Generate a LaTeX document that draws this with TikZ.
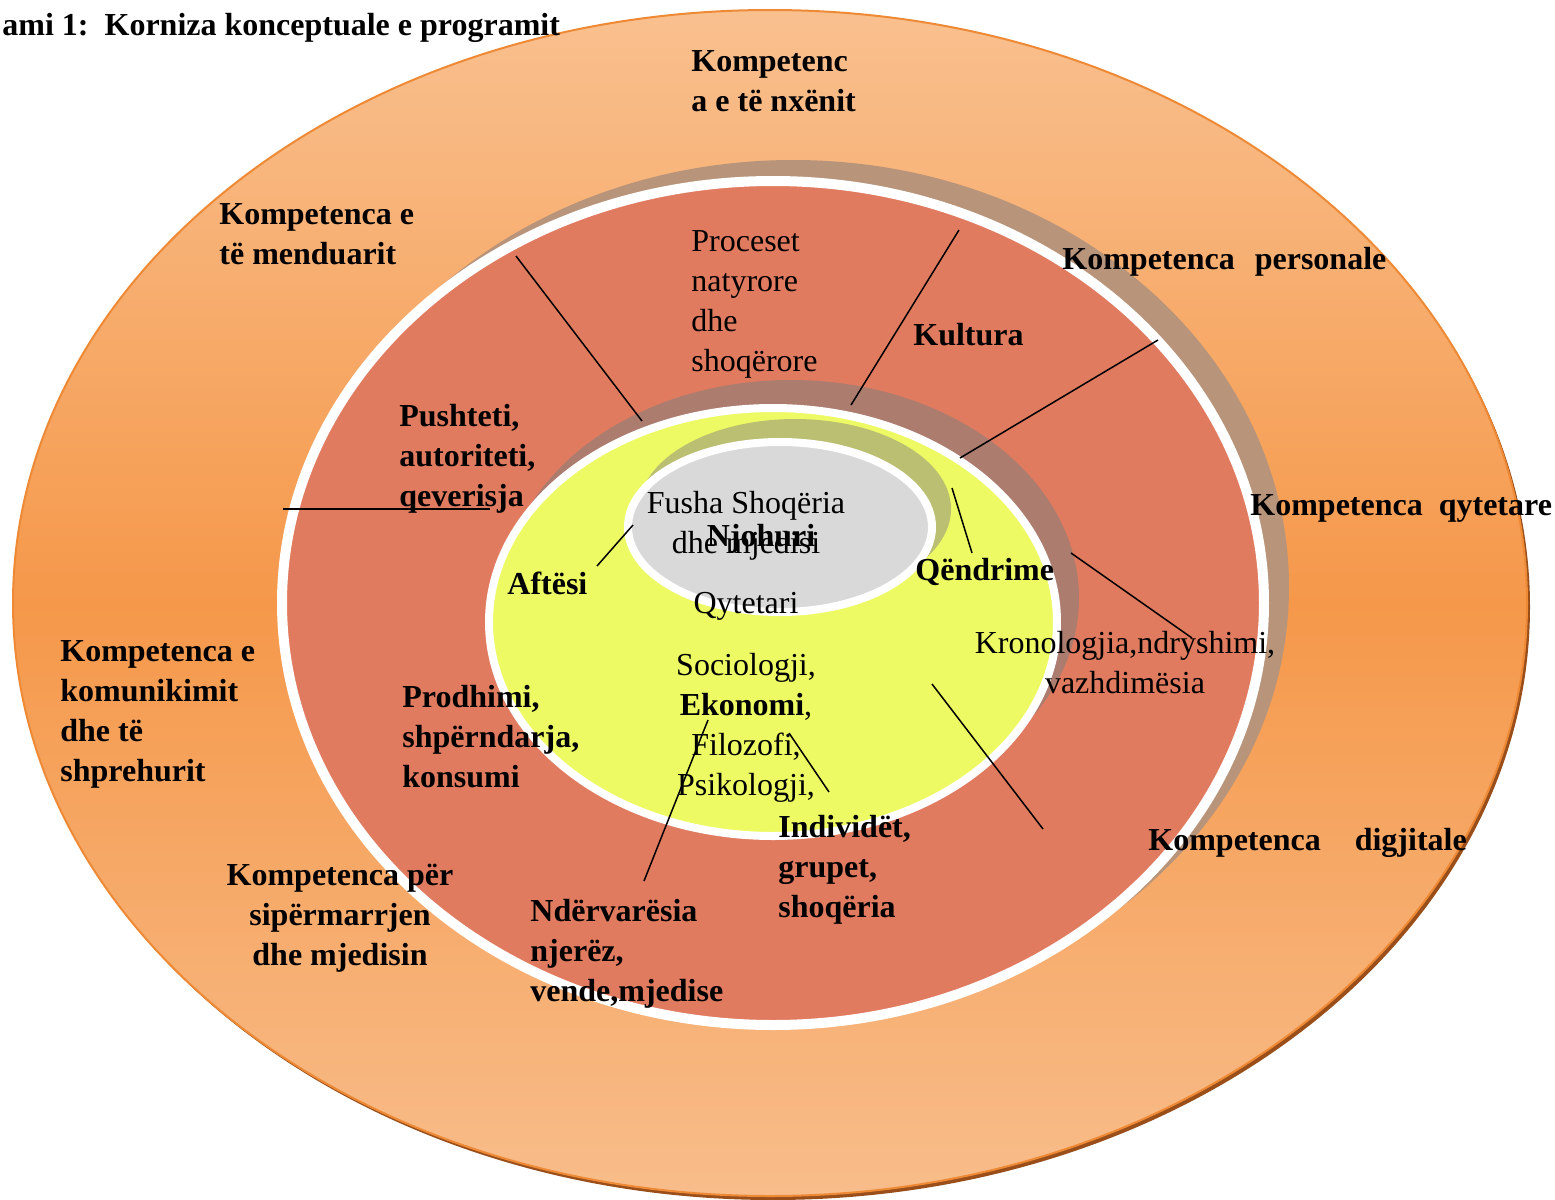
\documentclass[tikz,border=0pt]{standalone}
\usepackage{fontspec}
\setmainfont{Liberation Serif}
\definecolor{outtop}{HTML}{F9C08F}
\definecolor{outmid}{HTML}{F5984A}
\definecolor{outbot}{HTML}{F8BD8B}
\definecolor{outedge}{HTML}{EE8A36}
\definecolor{outshadow}{HTML}{9A4F1A}
\definecolor{ringred}{HTML}{E07B60}
\definecolor{ringshadow}{HTML}{B8947A}
\definecolor{yelfill}{HTML}{EDFA64}
\definecolor{yelshadow}{HTML}{AC7C6E}
\definecolor{grayfill}{HTML}{D9D9D9}
\definecolor{grayshadow}{HTML}{BBBF72}
\tikzset{
  lbl/.style={font=\fontsize{16}{20}\selectfont, inner sep=0pt, align=left, anchor=north west},
  blbl/.style={lbl, font=\fontsize{16}{20}\selectfont\bfseries},
  clbl/.style={lbl, align=center, anchor=north},
  cblbl/.style={blbl, align=center, anchor=north},
  conn/.style={draw=black, line width=0.75pt},
  whiteedge/.style={draw=white},
}
\begin{document}
\begin{tikzpicture}[x=0.5pt,y=-0.5pt]
\useasboundingbox (0,0) rectangle (1555,1200);
% outer ellipse
\fill[outshadow] (773,607) ellipse [x radius=378.5pt, y radius=296.5pt];
\shade[top color=outtop, bottom color=outbot, middle color=outmid] (770,603) ellipse [x radius=378.5pt, y radius=296.5pt];
\draw[outedge, line width=1pt] (770,603) ellipse [x radius=378.5pt, y radius=296.5pt];
% red ring
\fill[ringshadow] (793,587) ellipse [x radius=248pt, y radius=213.5pt];
\filldraw[fill=ringred, whiteedge, line width=5pt] (773,603) ellipse [x radius=245.5pt, y radius=211pt];
% yellow
\fill[yelshadow] (791,598) ellipse [x radius=144pt, y radius=109pt];
\filldraw[fill=yelfill, whiteedge, line width=4pt] (773,622) ellipse [x radius=142pt, y radius=107pt];
% gray
\fill[grayshadow] (795,509) ellipse [x radius=78pt, y radius=45pt];
\filldraw[fill=grayfill, whiteedge, line width=4pt] (780,527) ellipse [x radius=76pt, y radius=42.5pt];

% texts
\node[blbl] (title) at (2,13) {ami 1:\ \ Korniza konceptuale e programit};
\node[blbl] (knx) at (691,50) {Kompetenc\\a e të nxënit};
\node[blbl] (kmen) at (219,203) {Kompetenca e\\të menduarit};
\node[lbl] (proc) at (691,230) {Proceset\\natyrore\\dhe\\shoqërore};
\node[blbl] (kpers) at (1062,247) {Kompetenca\hspace{10pt}personale};
\node[blbl] (kult) at (913,323) {Kultura};
\node[blbl] (push) at (399,404) {Pushteti,\\autoriteti,\\qeverisja};
\node[blbl] (kqyt) at (1250,494) {Kompetenca\hspace{8pt}qytetare};
\node[clbl] (fusha) at (746,491) {Fusha Shoqëria\\dhe mjedisi};
\node[cblbl] (njoh) at (761,524) {Njohuri};
\node[blbl] (aft) at (507,572) {Aftësi};
\node[blbl] (qend) at (915,558) {Qëndrime};
\node[clbl] (qyt) at (746,592) {Qytetari};
\node[blbl] (kkom) at (60,640) {Kompetenca e\\komunikimit\\dhe të\\shprehurit};
\node[clbl] (kron) at (1125,631) {Kronologjia,ndryshimi,\\vazhdimësia};
\node[clbl] (soc) at (746,653) {Sociologji,\\\textbf{Ekonomi},\\Filozofi,\\Psikologji,};
\node[blbl] (prod) at (402,685) {Prodhimi,\\shpërndarja,\\konsumi};
\node[blbl] (ind) at (778,815) {Individët,\\grupet,\\shoqëria};
\node[blbl] (kdig) at (1148,828) {Kompetenca\hspace{17pt}digjitale};
\node[cblbl] (ksip) at (340,864) {Kompetenca për\\sipërmarrjen\\dhe mjedisin};
\node[blbl] (nder) at (530,899) {Ndërvarësia\\njerëz,\\vende,mjedise};

% connectors
\coordinate (l1a) at (516,256); \coordinate (l1b) at (642,421);
\coordinate (l2a) at (959,230); \coordinate (l2b) at (851,405);
\coordinate (l3a) at (1158,340); \coordinate (l3b) at (960,458);
\coordinate (l4a) at (283,509); \coordinate (l4b) at (490,509);
\coordinate (l5a) at (633,525); \coordinate (l5b) at (597,566);
\coordinate (l6a) at (952,488); \coordinate (l6b) at (972,553);
\coordinate (l7a) at (1071,553); \coordinate (l7b) at (1192,638);
\coordinate (l8a) at (932,684); \coordinate (l8b) at (1043,829);
\coordinate (l9a) at (708,720); \coordinate (l9b) at (644,881);
\coordinate (l10a) at (789,733); \coordinate (l10b) at (829,792);
\draw[conn] (l1a) -- (l1b);
\draw[conn] (l2a) -- (l2b);
\draw[conn] (l3a) -- (l3b);
\draw[conn] (l4a) -- (l4b);
\draw[conn] (l5a) -- (l5b);
\draw[conn] (l6a) -- (l6b);
\draw[conn] (l7a) -- (l7b);
\draw[conn] (l8a) -- (l8b);
\draw[conn] (l9a) -- (l9b);
\draw[conn] (l10a) -- (l10b);
\end{tikzpicture}
\end{document}
